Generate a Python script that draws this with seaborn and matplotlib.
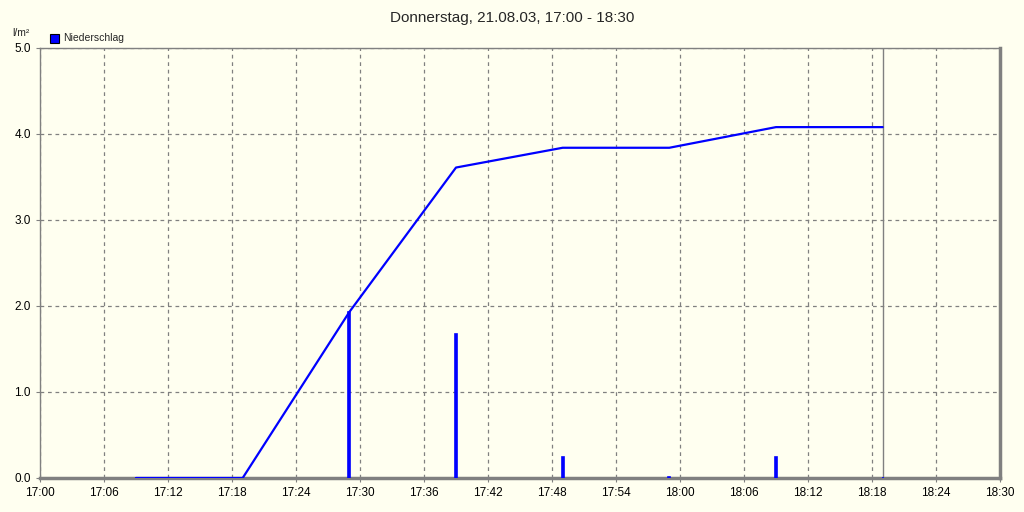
import matplotlib
matplotlib.use("Agg")
import matplotlib.pyplot as plt
import seaborn as sns
import pandas as pd

# minutes after 17:00
minutes = [9, 19, 29, 39, 49, 59, 69, 79]
cumulative = [0.0, 0.0, 1.93, 3.61, 3.84, 3.84, 4.08, 4.08]
rain = [0.0, 0.0, 1.93, 1.68, 0.24, 0.01, 0.24, 0.0]
tick_labels = ["17:00", "17:06", "17:12", "17:18", "17:24", "17:30", "17:36", "17:42",
               "17:48", "17:54", "18:00", "18:06", "18:12", "18:18", "18:24", "18:30"]
now_minute = 79

df = pd.DataFrame({"minute": minutes, "sum": cumulative, "rain": rain})

sns.set_style("white")
plt.rcParams["font.family"] = ["Liberation Sans", "DejaVu Sans"]
bg = "#fffff0"
blue = "#0000ff"
gray = "#808080"

fig = plt.figure(figsize=(10.24, 5.12), dpi=100, facecolor=bg)
ax = fig.add_axes([40 / 1024, 34 / 512, 960 / 1024, 430 / 512])
ax.set_facecolor(bg)

ax.bar(df["minute"], df["rain"], width=0.2, color=blue, edgecolor=blue, linewidth=1.2, zorder=3)
sns.lineplot(data=df, x="minute", y="sum", color=blue, linewidth=1.6, ax=ax, zorder=4)
ax.axvline(now_minute, color=gray, linewidth=1, zorder=2)

ax.set_xlim(0, 90)
ax.set_ylim(0, 5)
ax.set_xticks(range(0, 91, 6))
ax.set_xticklabels(tick_labels)
ax.set_yticks([0, 1, 2, 3, 4, 5])
ax.set_yticklabels(["0.0", "1.0", "2.0", "3.0", "4.0", "5.0"])
ax.grid(True, color=gray, linestyle=(0, (3, 3)), linewidth=0.9, zorder=1)
ax.tick_params(axis="both", labelsize=8.5, colors="black", length=3, direction="out",
               left=True, bottom=True, color=gray)
ax.set_xlabel("")
ax.set_ylabel("")

for side in ["left", "top"]:
    ax.spines[side].set_color(gray)
    ax.spines[side].set_linewidth(1)
for side in ["bottom", "right"]:
    ax.spines[side].set_color(gray)
    ax.spines[side].set_linewidth(2.5)

fig.text(0.5, 0.965, "Donnerstag, 21.08.03, 17:00 - 18:30", ha="center", va="center", fontsize=11)
fig.text(12 / 1024, 1 - 33 / 512, "l/m²", ha="left", va="center", fontsize=7.5)
fig.patches.append(plt.Rectangle((50 / 1024, 1 - 43 / 512), 9 / 1024, 9 / 512,
                                 transform=fig.transFigure, facecolor=blue,
                                 edgecolor="black", linewidth=0.8))
fig.text(63 / 1024, 1 - 38 / 512, "Niederschlag", ha="left", va="center", fontsize=7.5)

fig.savefig("out.png", dpi=100, facecolor=bg)
